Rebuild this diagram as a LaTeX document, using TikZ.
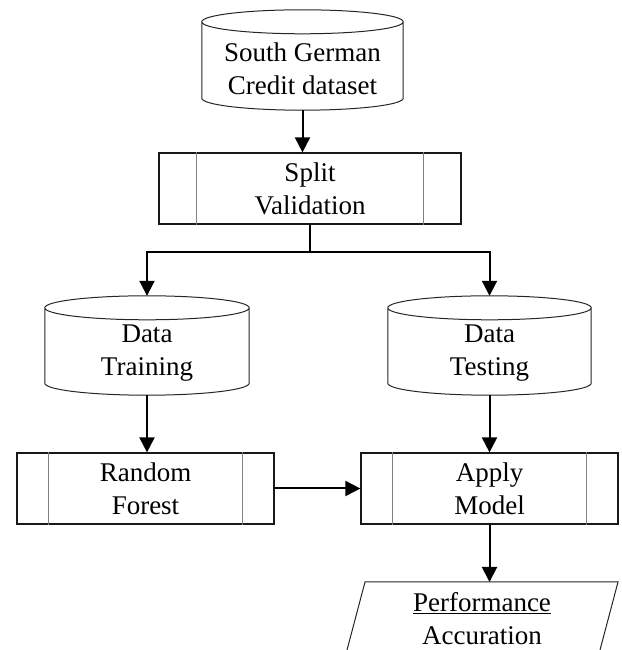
\documentclass[tikz,border=0pt]{standalone}
\usepackage{fontspec}
\setmainfont{Liberation Serif}
\usetikzlibrary{arrows.meta,calc}
\tikzset{
  box/.style={draw=black!85, line width=1pt},
  innerline/.style={draw=black!50, line width=1.3pt},
  proc/.style={draw=black!90, line width=1.2pt, minimum height=71pt, inner sep=0pt},
  cylbody/.style={inner sep=0pt},
  txt/.style={align=center, font=\fontsize{27}{33}\selectfont, inner sep=0pt},
  conn/.style={line width=2pt, -{Triangle[length=15pt,width=15pt]}},
  plainline/.style={line width=2pt},
}
\newcommand\cylshape[2]{%
  \draw[box] let \p1=(#1.north west), \p2=(#1.south east), \n1={(\x2-\x1)/2} in
    (\x1,\y1-#2pt) -- (\x1,\y2+#2pt)
      arc[start angle=180,end angle=360,x radius=\n1,y radius=#2pt]
      -- (\x2,\y1-#2pt)
    (\x1+\n1,\y1-#2pt) ellipse[x radius=\n1,y radius=#2pt];
}
\newcommand\procbars[2]{%
  \draw[innerline] ([xshift=#2pt]#1.north west) -- ([xshift=#2pt]#1.south west);
  \draw[innerline] ([xshift=-#2pt]#1.north east) -- ([xshift=-#2pt]#1.south east);
}
\begin{document}
\begin{tikzpicture}[x=1pt,y=1pt]
\useasboundingbox (0,0) rectangle (621,650);

% source cylinder
\node[cylbody, minimum width=201pt, minimum height=100pt] (src) at (302.5,590) {};
\cylshape{src}{12}
\node[txt] (srcT) at ([yshift=-9pt]src.center) {South German\\Credit dataset};

% split validation
\node[proc, txt, minimum width=302pt] (split) at (310,461.5) {Split\\Validation};
\procbars{split}{38}

% data cylinders
\node[cylbody, minimum width=204pt, minimum height=99pt] (train) at (147,304.5) {};
\cylshape{train}{12}
\node[txt] (trainT) at ([yshift=-8pt]train.center) {Data\\Training};

\node[cylbody, minimum width=203pt, minimum height=99pt] (test) at (489.5,304.5) {};
\cylshape{test}{12}
\node[txt] (testT) at ([yshift=-8pt]test.center) {Data\\Testing};

% processes
\node[proc, txt, minimum width=257pt] (rf) at (145.5,161.5) {Random\\Forest};
\procbars{rf}{32}
\node[proc, txt, minimum width=257pt] (am) at (489.5,161.5) {Apply\\Model};
\procbars{am}{32}

% output parallelogram (cut at the bottom edge)
\coordinate (perftop) at (491,68);
\draw[box] (347,0) -- (365,68) -- (618,68) -- (600,0);
\node[txt] (perf) at (482,31.5) {\underline{Performance}\\Accuration};

% connectors
\draw[conn] (src.south) -- (src.south |- split.north);
\coordinate (fork) at (310,398);
\draw[plainline] (split.south) -- (fork);
\draw[conn] (fork) -| (train.north);
\draw[conn] (fork) -| (test.north);
\draw[conn] (train.south) -- (train.south |- rf.north);
\draw[conn] (test.south) -- (test.south |- am.north);
\draw[conn] (rf.east) -- (am.west);
\draw[conn] (am.south) -- (am.south |- perftop);
\end{tikzpicture}
\end{document}
